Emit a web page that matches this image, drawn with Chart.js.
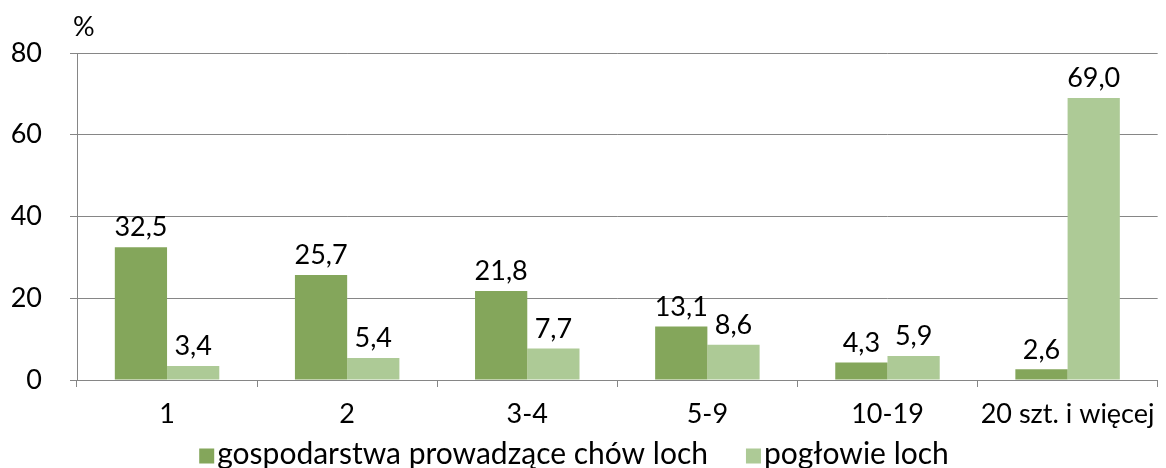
<!DOCTYPE html>
<html><head><meta charset="utf-8">
<script src="https://cdn.jsdelivr.net/npm/chart.js@4/dist/chart.umd.min.js"></script>
<style>html,body{margin:0;padding:0;background:#fff}#wrap{width:1166px;height:468px}</style>
</head><body><div id="wrap"><canvas id="c" width="1166" height="468"></canvas></div>
<script>
const categories = ["1", "2", "3-4", "5-9", "10-19", "20 szt. i więcej"];
const farms = [32.5, 25.7, 21.8, 13.1, 4.3, 2.6];
const sows = [3.4, 5.4, 7.7, 8.6, 5.9, 69.0];
const seriesNames = ["gospodarstwa prowadzące chów loch", "pogłowie loch"];
const yTicks = [0, 20, 40, 60, 80];
const unitLabel = "%";

const FONT = "Lato, 'Liberation Sans', sans-serif";
const FS = 27;
const LFS = 30;
const grid = '#868686';

const labelPlugin = {
  id: 'vals',
  afterDatasetsDraw(chart) {
    const ctx = chart.ctx;
    ctx.save();
    ctx.font = FS + 'px ' + FONT;
    ctx.fillStyle = '#000';
    ctx.textAlign = 'center';
    ctx.textBaseline = 'bottom';
    chart.data.datasets.forEach((ds, i) => {
      chart.getDatasetMeta(i).data.forEach((bar, j) => {
        ctx.fillText(ds.data[j].toFixed(1).replace('.', ','), bar.x, bar.y - 6);
      });
    });
    ctx.textAlign = 'left';
    ctx.fillText(unitLabel, chart.chartArea.left - 4, chart.chartArea.top - 12);

    // legend
    ctx.font = LFS + 'px ' + FONT;
    ctx.textBaseline = 'middle';
    const box = 15, gap = 3, itemGap = 38;
    const items = chart.data.datasets.map(ds => ({ text: ds.label, color: ds.backgroundColor, w: ctx.measureText(ds.label).width }));
    const total = items.reduce((a, it) => a + box + gap + it.w, 0) + itemGap * (items.length - 1);
    let x = 574 - total / 2;
    const cy = 454;
    items.forEach(it => {
      ctx.fillStyle = it.color;
      ctx.fillRect(x, cy - box / 2 + 2, box, box);
      ctx.fillStyle = '#000';
      ctx.fillText(it.text, x + box + gap, cy);
      x += box + gap + it.w + itemGap;
    });
    ctx.restore();
  }
};

new Chart(document.getElementById('c'), {
  type: 'bar',
  data: {
    labels: categories,
    datasets: [
      { label: seriesNames[0], data: farms, backgroundColor: '#84a65b', categoryPercentage: 0.58, barPercentage: 1 },
      { label: seriesNames[1], data: sows, backgroundColor: '#adca96', categoryPercentage: 0.58, barPercentage: 1 }
    ]
  },
  options: {
    responsive: false,
    animation: false,
    layout: { padding: { top: 53, right: 6, left: 0, bottom: 0 } },
    plugins: {
      legend: { display: false },
      tooltip: { enabled: false }
    },
    scales: {
      x: {
        grid: { drawOnChartArea: false, drawTicks: true, tickLength: 7, color: grid, offset: true },
        border: { color: grid },
        ticks: { font: { family: FONT, size: FS }, color: '#000', padding: 11, maxRotation: 0 },
        afterFit: s => { s.height = 88; }
      },
      y: {
        min: 0, max: 80,
        afterBuildTicks: s => { s.ticks = yTicks.map(v => ({ value: v })); },
        grid: { color: grid, tickLength: 7 },
        border: { color: grid },
        ticks: { font: { family: FONT, size: FS }, color: '#000', padding: 28 },
        afterFit: s => { s.width = 77; }
      }
    }
  },
  plugins: [labelPlugin]
});
</script></body></html>
